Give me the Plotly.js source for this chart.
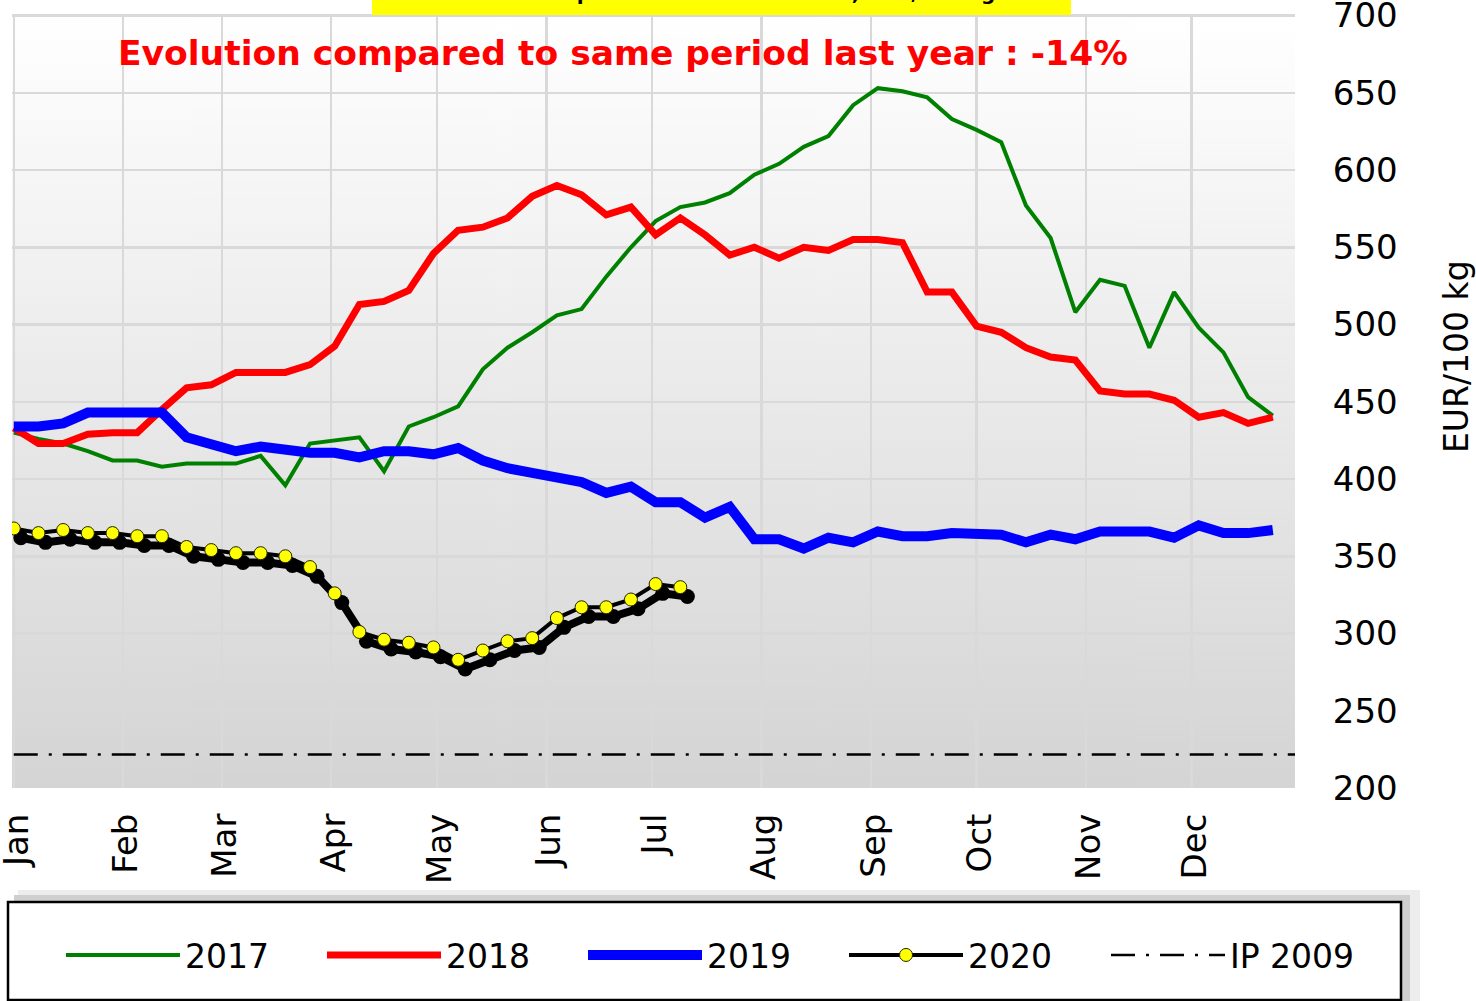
<!DOCTYPE html>
<html>
<head>
<meta charset="utf-8">
<script src="https://cdn.plot.ly/plotly-3.0.1.min.js"></script>
<style>
html,body{margin:0;padding:0;background:#ffffff;}
#chart{width:1476px;height:1001px;}
</style>
</head>
<body>
<div id="chart"></div>
<script>
// ---------- DATA (weekly EU butter prices, EUR/100 kg) ----------
const seriesNames = ['2017', '2018', '2019', '2020', 'IP 2009'];
const p2017 = [430, 426, 423, 418, 412, 412, 408, 410, 410, 410, 415, 396, 423, 425, 427, 405, 434, 440, 447, 471,
               485, 495, 506, 510, 531, 550, 567, 576, 579, 585, 597, 604, 615, 622, 642, 653, 651, 647, 633, 626,
               618, 577, 556, 508, 529, 525, 485, 521, 498, 482, 453, 441];
const p2018 = [433, 423, 423, 429, 430, 430, 445, 459, 461, 469, 469, 469, 474, 486, 513, 515, 522, 546, 561, 563,
               569, 583, 590, 584, 571, 576, 558, 569, 558, 545, 550, 543, 550, 548, 555, 555, 553, 521, 521, 499,
               495, 485, 479, 477, 457, 455, 455, 451, 440, 443, 436, 440];
const p2019 = [434, 434, 436, 443, 443, 443, 443, 427, 423, 418, 421, 419, 417, 417, 414, 418, 418, 416, 420, 412,
               407, 404, 401, 398, 391, 395, 385, 385, 375, 382, 361, 361, 355, 362, 359, 366, 363, 363, 365, 365,
               364, 359, 364, 361, 366, 366, 366, 362, 370, 365, 365, 367];
const p2020 = [368, 365, 367, 365, 365, 363, 363, 356, 354, 352, 352, 350, 343, 326, 301, 296, 294, 291, 283, 289,
               295, 297, 310, 317, 317, 322, 332, 330];
const ipValue = 221.75;
const monthTickFormat = '%b';

// weekly positions on a common calendar year (week 1 = 1 Jan)
const weekCount = 52;
const weeks = [];
for (let i = 0; i < weekCount; i++) {
  const d = new Date(Date.UTC(2019, 0, 1 + 7 * i));
  weeks.push(d.toISOString().slice(0, 10));
}
const ipX = ['2019-01-01', '2019-12-31'];
const ipY = [ipValue, ipValue];

// ---------- LAYOUT HELPERS ----------
const PL = 12, PR = 1295, PT = 14, PB = 788;
const px2x = p => (p - PL) / (PR - PL);
const px2y = p => (PB - p) / (PB - PT);
const FONT = 'DejaVu Sans, Verdana, sans-serif';

// ranges reach a hair past the first gridlines so that the edge gridlines are drawn
const xRange = ['2018-12-31 12:00:00', '2019-12-30 07:00:00'];
const yRange = [200, 701];
function shiftDate(s, days) {
  const d = new Date(s.replace(' ', 'T') + 'Z');
  d.setUTCDate(d.getUTCDate() + days);
  return d.toISOString().slice(0, 19).replace('T', ' ');
}
// shadow of the 2020 series: same data on a copy of the axes shifted by a few pixels
const shadowX = [shiftDate(xRange[0], -2), shiftDate(xRange[1], -2)];
const shadowY = [yRange[0] + 6, yRange[1] + 6];

// background gradient for the plot area
const cv = document.createElement('canvas');
cv.width = 4; cv.height = 774;
const cx = cv.getContext('2d');
const gr = cx.createLinearGradient(0, 0, 0, 774);
gr.addColorStop(0, '#ffffff');
gr.addColorStop(1, '#d4d4d4');
cx.fillStyle = gr;
cx.fillRect(0, 0, 4, 774);
const bgURL = cv.toDataURL('image/png');

const traces = [
  { // shadow (base axes, drawn beneath everything)
    x: weeks.slice(0, p2020.length), y: p2020, xaxis: 'x', yaxis: 'y',
    mode: 'lines+markers', showlegend: false, hoverinfo: 'skip',
    line: { color: '#000000', width: 8 },
    marker: { color: '#000000', size: 15, line: { width: 0 } }
  },
  { x: weeks, y: p2017, name: seriesNames[0], xaxis: 'x2', yaxis: 'y2', mode: 'lines',
    line: { color: '#008000', width: 4 } },
  { x: weeks, y: p2018, name: seriesNames[1], xaxis: 'x2', yaxis: 'y2', mode: 'lines',
    line: { color: '#ff0000', width: 7 } },
  { x: weeks, y: p2019, name: seriesNames[2], xaxis: 'x2', yaxis: 'y2', mode: 'lines',
    line: { color: '#0000ff', width: 10 } },
  { x: weeks.slice(0, p2020.length), y: p2020, name: seriesNames[3], xaxis: 'x2', yaxis: 'y2',
    mode: 'lines+markers',
    line: { color: '#000000', width: 4 },
    marker: { color: '#ffff00', size: 13, line: { color: '#222200', width: 1 } } },
  { x: ipX, y: ipY, name: seriesNames[4], xaxis: 'x2', yaxis: 'y2', mode: 'lines', legend: 'legend2',
    line: { color: '#000000', width: 2.5, dash: '24px,11px,3px,11px' } }
];

const legendFont = { family: FONT, size: 33, color: '#000000' };
const SAMPLE = 114;              // legend line-sample length
const TEXT_GAP = SAMPLE + 10;    // plotly: itemwidth + 2*itemGap
const layout = {
  width: 1476, height: 1001,
  margin: { l: PL, r: 1476 - PR, t: PT, b: 1001 - PB, pad: 0, autoexpand: false },
  paper_bgcolor: '#ffffff',
  plot_bgcolor: 'rgba(0,0,0,0)',
  font: { family: FONT, color: '#000000', size: 34 },
  showlegend: true,
  xaxis: { type: 'date', range: shadowX, visible: false, fixedrange: true },
  yaxis: { range: shadowY, visible: false, fixedrange: true },
  xaxis2: {
    type: 'date', overlaying: 'x', anchor: 'y2', side: 'bottom', range: xRange,
    tick0: '2019-01-01', dtick: 'M1', tickformat: monthTickFormat, tickangle: -90,
    ticks: 'outside', ticklen: 11, tickcolor: 'rgba(0,0,0,0)', ticklabeloverflow: 'allow',
    ticklabelshift: 3,
    showgrid: true, gridcolor: '#d9d9d9', gridwidth: 2.5,
    showline: false, zeroline: false, automargin: false,
    tickfont: { family: FONT, size: 34, color: '#000000' }
  },
  yaxis2: {
    overlaying: 'y', anchor: 'x2', side: 'right', range: yRange, dtick: 50, tick0: 0,
    ticks: 'outside', ticklen: 30, tickcolor: 'rgba(0,0,0,0)', ticklabeloverflow: 'allow',
    showgrid: true, gridcolor: '#d9d9d9', gridwidth: 2.5,
    showline: false, zeroline: false, automargin: false,
    tickfont: { family: FONT, size: 34, color: '#000000' }
  },
  images: [{
    source: bgURL, xref: 'paper', yref: 'paper', x: 0, y: 1, sizex: 1, sizey: 1,
    xanchor: 'left', yanchor: 'top', sizing: 'stretch', layer: 'below'
  }],
  legend: {
    orientation: 'h', xref: 'container', yref: 'container',
    x: (185 - TEXT_GAP) / 1476, xanchor: 'left', y: 1 - 955 / 1001, yanchor: 'middle',
    font: legendFont, bgcolor: 'rgba(0,0,0,0)', borderwidth: 0, itemwidth: SAMPLE,
    entrywidth: 261 - TEXT_GAP - 5, entrywidthmode: 'pixels', traceorder: 'normal'
  },
  legend2: {
    orientation: 'h', xref: 'container', yref: 'container',
    x: (1230 - TEXT_GAP) / 1476, xanchor: 'left', y: 1 - 955 / 1001, yanchor: 'middle',
    font: legendFont, bgcolor: 'rgba(0,0,0,0)', borderwidth: 0, itemwidth: SAMPLE
  },
  shapes: [
    // legend shadow + box
    { type: 'rect', xref: 'paper', yref: 'paper', x0: px2x(18), x1: px2x(1420), y0: px2y(1001), y1: px2y(890),
      fillcolor: '#ededed', line: { width: 0 }, layer: 'below' },
    { type: 'rect', xref: 'paper', yref: 'paper', x0: px2x(14), x1: px2x(1410), y0: px2y(1001), y1: px2y(895),
      fillcolor: '#cfcfcf', line: { width: 0 }, layer: 'below' },
    { type: 'rect', xref: 'paper', yref: 'paper', x0: px2x(8), x1: px2x(1401), y0: px2y(1000), y1: px2y(902),
      fillcolor: '#ffffff', line: { color: '#000000', width: 2.5 }, layer: 'below' },
    // yellow title box
    { type: 'rect', xref: 'paper', yref: 'paper', x0: px2x(372), x1: px2x(1071), y0: px2y(15), y1: px2y(-20),
      fillcolor: '#ffff00', line: { width: 0 }, layer: 'above' }
  ],
  annotations: [
    { xref: 'paper', yref: 'paper', x: px2x(459), y: px2y(-7), xanchor: 'left', yanchor: 'middle',
      text: '<b>EU Butter prices in Member States, EUR/100 kg</b>', showarrow: false,
      font: { family: FONT, size: 20, color: '#000000' } },
    { xref: 'paper', yref: 'paper', x: px2x(623), y: px2y(53), xanchor: 'center', yanchor: 'middle',
      text: '<b>Evolution compared to same period last year : -14%</b>', showarrow: false,
      font: { family: FONT, size: 34.5, color: '#ff0000' } },
    { xref: 'paper', yref: 'paper', x: px2x(1456), y: px2y(357), xanchor: 'center', yanchor: 'middle',
      text: 'EUR/100 kg', textangle: -90, showarrow: false,
      font: { family: FONT, size: 33, color: '#000000' } }
  ]
};

Plotly.newPlot('chart', traces, layout, { staticPlot: true, displayModeBar: false });
</script>
</body>
</html>
